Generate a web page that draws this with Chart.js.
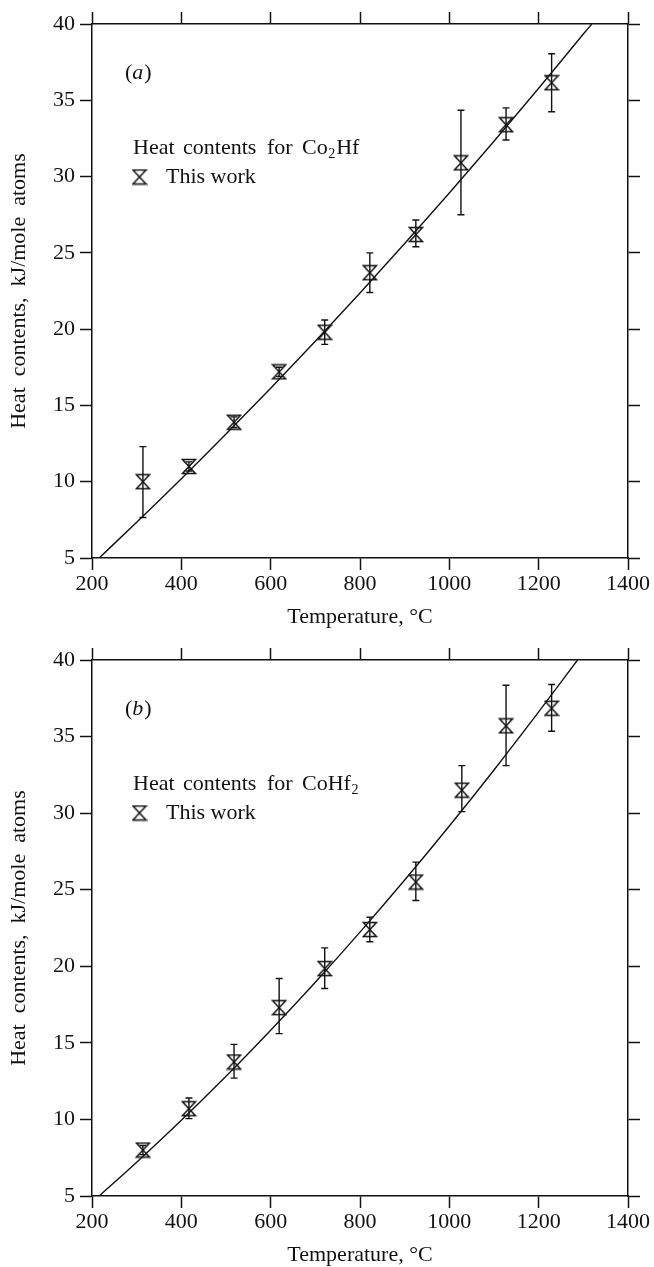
<!DOCTYPE html>
<html><head><meta charset="utf-8">
<script src="https://cdn.jsdelivr.net/npm/chart.js@4.4.0/dist/chart.umd.min.js"></script>
<style>
html,body{margin:0;padding:0;background:#fff;}
#wrap{position:relative;width:654px;height:1267px;background:#fff;}
#ca{position:absolute;left:0;top:0;}
#cb{position:absolute;left:0;top:634px;}
</style></head><body>
<div id="wrap">
<canvas id="ca" width="654" height="634"></canvas>
<canvas id="cb" width="654" height="633"></canvas>
</div>
<script>
// ---------- data ----------
const xTickValues = [200, 400, 600, 800, 1000, 1200, 1400];
const xTickLabels = ['200', '400', '600', '800', '1000', '1200', '1400'];
const yTickValues = [5, 10, 15, 20, 25, 30, 35, 40];
const yTickLabels = ['5', '10', '15', '20', '25', '30', '35', '40'];

// panel (a): Co2Hf
const tempA   = [314, 417, 518, 619, 721, 822, 925, 1026, 1127, 1229];
const heatA   = [10.0, 11.0, 13.9, 17.2, 19.8, 23.7, 26.2, 30.9, 33.4, 36.15];
const errTopA = [12.3, 11.3, 14.25, 17.5, 20.6, 25.0, 27.15, 34.35, 34.5, 38.05];
const errBotA = [7.65, 10.7, 13.55, 16.9, 19.0, 22.4, 25.4, 27.5, 32.4, 34.25];
const fitTempA = [216, 300, 400, 500, 600, 700, 800, 900, 1000, 1100, 1200, 1300, 1319];
const fitHeatA = [5.0, 7.34, 10.19, 13.12, 16.13, 19.21, 22.37, 25.61, 28.92, 32.32, 35.79, 39.34, 40.0];

// panel (b): CoHf2
const tempB   = [314, 417, 518, 619, 721, 822, 925, 1028, 1127, 1229];
const heatB   = [8.0, 10.7, 13.75, 17.3, 19.85, 22.4, 25.5, 31.5, 35.7, 36.85];
const errTopB = [8.3, 11.4, 14.9, 19.2, 21.2, 23.2, 26.8, 33.1, 38.35, 38.4];
const errBotB = [7.7, 10.05, 12.7, 15.6, 18.55, 21.6, 24.3, 30.1, 33.1, 35.35];
const fitTempB = [216, 300, 400, 500, 600, 700, 800, 900, 1000, 1100, 1200, 1287];
const fitHeatB = [5.0, 7.21, 9.95, 12.82, 15.83, 18.96, 22.23, 25.63, 29.16, 32.82, 36.61, 40.0];

const xTitle = 'Temperature, \u00B0C';
const yTitle = 'Heat  contents,  kJ/mole  atoms';
const legendItem = 'This work';

// ---------- styling ----------
const FF = '"Liberation Serif", "Times New Roman", "DejaVu Serif", serif';
const INK = '#111111';

function makeMarker() {
  const c = document.createElement('canvas');
  c.width = 16; c.height = 17;
  const g = c.getContext('2d');
  g.strokeStyle = INK; g.lineWidth = 1.5; g.lineJoin = 'miter';
  g.beginPath();
  g.moveTo(1.5, 1.5); g.lineTo(14.5, 1.5); g.lineTo(1.5, 15.5); g.lineTo(14.5, 15.5); g.closePath();
  g.stroke();
  return c;
}
const marker = makeMarker();

function errorPlugin(T, top, bot) {
  return {
    id: 'errorBars',
    afterDatasetsDraw(chart) {
      const ctx = chart.ctx, xs = chart.scales.x, ys = chart.scales.y;
      ctx.save();
      ctx.strokeStyle = INK; ctx.lineWidth = 1.4;
      T.forEach((t, i) => {
        const px = xs.getPixelForValue(t);
        const y1 = ys.getPixelForValue(top[i]);
        const y2 = ys.getPixelForValue(bot[i]);
        ctx.beginPath();
        ctx.moveTo(px, y1); ctx.lineTo(px, y2);
        ctx.moveTo(px - 3.5, y1); ctx.lineTo(px + 3.5, y1);
        ctx.moveTo(px - 3.5, y2); ctx.lineTo(px + 3.5, y2);
        ctx.stroke();
      });
      ctx.restore();
    }
  };
}

// formula parts: [text, isSub]
function annotPlugin(panelLetter, formulaParts) {
  return {
    id: 'annot',
    afterDraw(chart) {
      const ctx = chart.ctx, a = chart.chartArea;
      ctx.save();
      ctx.fillStyle = INK;
      ctx.textBaseline = 'alphabetic';
      ctx.textAlign = 'left';
      // panel label
      let x = a.left + 33, y = a.top + 55;
      ctx.font = '22px ' + FF;
      ctx.fillText('(', x, y); x += ctx.measureText('(').width;
      ctx.font = 'italic 22px ' + FF;
      ctx.fillText(panelLetter, x, y); x += ctx.measureText(panelLetter).width + 1;
      ctx.font = '22px ' + FF;
      ctx.fillText(')', x, y);
      // legend title
      y = a.top + 130;
      ctx.fillText('Heat', a.left + 41, y);
      ctx.fillText('contents', a.left + 91, y);
      ctx.fillText('for', a.left + 175, y);
      x = a.left + 210;
      formulaParts.forEach(([t, sub]) => {
        if (sub) {
          ctx.font = '14px ' + FF;
          ctx.fillText(t, x + 0.5, y + 4);
          x += ctx.measureText(t).width + 1.5;
          ctx.font = '22px ' + FF;
        } else {
          ctx.fillText(t, x, y);
          x += ctx.measureText(t).width;
        }
      });
      // legend item
      ctx.drawImage(marker, a.left + 47.5 - marker.width / 2, a.top + 153 - marker.height / 2);
      ctx.fillText(legendItem, a.left + 74, a.top + 159);
      ctx.restore();
    }
  };
}

function axisCommon() {
  return {
    grid: { display: true, drawOnChartArea: false, drawTicks: true, tickLength: 12, tickWidth: 1.5, tickColor: INK },
    border: { display: true, color: INK, width: 1.5 }
  };
}

function makeChart(id, cfg) {
  const c = axisCommon();
  return new Chart(document.getElementById(id), {
    data: {
      datasets: [
        {
          type: 'line',
          data: cfg.fitT.map((t, i) => ({ x: t, y: cfg.fitH[i] })),
          borderColor: INK, borderWidth: 1.4, pointRadius: 0,
          cubicInterpolationMode: 'monotone', fill: false, order: 2
        },
        {
          type: 'scatter',
          data: cfg.T.map((t, i) => ({ x: t, y: cfg.H[i] })),
          pointStyle: marker, pointRadius: 8, order: 1
        }
      ]
    },
    options: {
      responsive: false, animation: false, devicePixelRatio: 1,
      layout: { padding: 0 },
      plugins: { legend: { display: false }, tooltip: { enabled: false } },
      scales: {
        x: {
          type: 'linear', position: 'bottom', min: 200, max: 1400,
          afterBuildTicks: s => { s.ticks = xTickValues.map(v => ({ value: v })); },
          ticks: { color: INK, font: { family: FF, size: 22 }, padding: 1, maxRotation: 0, autoSkip: false,
                   callback: v => xTickLabels[xTickValues.indexOf(v)] },
          grid: c.grid, border: c.border,
          title: { display: true, text: xTitle, color: INK, font: { family: FF, size: 22, lineHeight: 1 },
                   padding: { top: 0, bottom: cfg.xTitlePad } },
          afterFit: s => { s.height = cfg.bottomH; }
        },
        x2: {
          type: 'linear', position: 'top', min: 200, max: 1400,
          afterBuildTicks: s => { s.ticks = xTickValues.map(v => ({ value: v })); },
          ticks: { display: false },
          grid: c.grid, border: c.border,
          afterFit: s => { s.height = cfg.topH; }
        },
        y: {
          type: 'linear', position: 'left', min: 5, max: 40,
          afterBuildTicks: s => { s.ticks = yTickValues.map(v => ({ value: v })); },
          ticks: { color: INK, font: { family: FF, size: 22 }, padding: 5,
                   callback: v => yTickLabels[yTickValues.indexOf(v)] },
          grid: c.grid, border: c.border,
          title: { display: true, text: yTitle, color: INK, font: { family: FF, size: 22, lineHeight: 1 },
                   padding: { top: 8, bottom: 0 } },
          afterFit: s => { s.width = 92; }
        },
        y2: {
          type: 'linear', position: 'right', min: 5, max: 40,
          afterBuildTicks: s => { s.ticks = yTickValues.map(v => ({ value: v })); },
          ticks: { display: false },
          grid: c.grid, border: c.border,
          afterFit: s => { s.width = 26; }
        }
      }
    },
    plugins: [errorPlugin(cfg.T, cfg.top, cfg.bot), annotPlugin(cfg.letter, cfg.formula)]
  });
}

makeChart('ca', {
  T: tempA, H: heatA, top: errTopA, bot: errBotA, fitT: fitTempA, fitH: fitHeatA,
  topH: 24, bottomH: 76, xTitlePad: 6, letter: 'a',
  formula: [['Co', false], ['2', true], ['Hf', false]]
});
makeChart('cb', {
  T: tempB, H: heatB, top: errTopB, bot: errBotB, fitT: fitTempB, fitH: fitHeatB,
  topH: 26, bottomH: 71, xTitlePad: 1, letter: 'b',
  formula: [['CoHf', false], ['2', true]]
});
</script>
</body></html>
